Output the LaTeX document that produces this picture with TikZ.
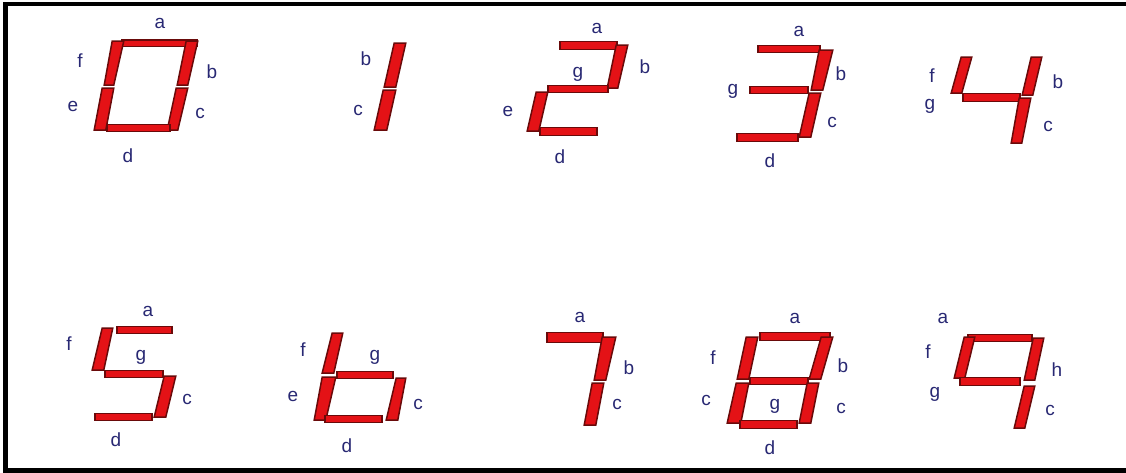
\documentclass[tikz,border=0pt]{standalone}
\usepackage{fontspec}
\newfontfamily\lblfont{Liberation Sans}
\definecolor{segred}{RGB}{228,18,22}
\definecolor{segdark}{RGB}{105,10,10}
\definecolor{lblblue}{RGB}{40,40,115}
\newcommand{\vsg}[6]{\draw[seg] ({#1-0.8},#3) -- ({#2+0.8},#3) -- ({#5+0.8},#6) -- ({#4-0.8},#6) -- cycle;}
\newcommand{\hsg}[4]{\draw[seg] (#1,{#3-0.5}) rectangle (#2,{#4+0.5});}
\begin{document}
\begin{tikzpicture}[x=1pt,y=-1pt,
  seg/.style={fill=segred,draw=segdark,line width=1.5pt,line join=miter},
  lbl/.style={text=lblblue,font=\lblfont\fontsize{19}{20}\selectfont,inner sep=0pt},
  frame/.style={line width=4.5pt,draw=black}]
\useasboundingbox (0,0) rectangle (1126,472);
% frame
\draw[frame] (5.3,472) -- (5.3,3.8) -- (1126,3.8);
\draw[frame] (3,470.5) -- (1126,470.5);
% digit 0
\hsg{122}{197}{40.5}{46}
\vsg{113}{123}{41}{105}{113}{85}
\vsg{103}{113}{88}{95}{105}{130}
\vsg{187}{197}{41}{178}{187}{85}
\vsg{177}{187}{88}{168}{177}{130}
\hsg{107}{170}{125}{131}
\node[lbl] (d0a) at (160,23) {a};
\node[lbl] (d0f) at (80,61) {f};
\node[lbl] (d0b) at (212,72) {b};
\node[lbl] (d0e) at (73,106) {e};
\node[lbl] (d0c) at (200,113) {c};
\node[lbl] (d0d) at (128,156) {d};
% digit 1
\vsg{395}{405}{43}{385}{395}{87}
\vsg{384}{395}{90}{375}{386}{130}
\node[lbl] (d1b) at (366,59) {b};
\node[lbl] (d1c) at (358,110) {c};
% digit 2
\hsg{560}{617}{42}{49}
\vsg{617}{627}{45}{608}{617}{88}
\hsg{548}{608}{86}{92}
\vsg{537}{547}{92}{528}{538}{131}
\hsg{540}{597}{128}{135}
\node[lbl] (d2a) at (597,28) {a};
\node[lbl] (d2g) at (578,74) {g};
\node[lbl] (d2b) at (645,67) {b};
\node[lbl] (d2e) at (508,111) {e};
\node[lbl] (d2d) at (560,157) {d};
% digit 3
\hsg{758}{820}{46}{52}
\vsg{820}{832}{50}{812}{822}{90}
\hsg{750}{808}{87}{93}
\vsg{810}{820}{93}{800}{810}{137}
\hsg{737}{798}{134}{141}
\node[lbl] (d3a) at (799,31) {a};
\node[lbl] (d3g) at (733,91) {g};
\node[lbl] (d3b) at (841,74) {b};
\node[lbl] (d3c) at (832,122) {c};
\node[lbl] (d3d) at (770,161) {d};
% digit 4
\vsg{962}{971}{57}{952}{961}{93}
\hsg{963}{1020}{94}{101}
\vsg{1032}{1041}{57}{1023}{1032}{95}
\vsg{1020}{1030}{98}{1012}{1021}{143}
\node[lbl] (d4f) at (932,76) {f};
\node[lbl] (d4g) at (930,106) {g};
\node[lbl] (d4b) at (1058,82) {b};
\node[lbl] (d4c) at (1048,126) {c};
% digit 5
\hsg{117}{172}{327}{333}
\vsg{103}{112}{328}{93}{103}{370}
\hsg{105}{163}{371}{377}
\vsg{165}{175}{376}{155}{165}{417}
\hsg{95}{152}{414}{420}
\node[lbl] (d5a) at (148,311) {a};
\node[lbl] (d5f) at (69,344) {f};
\node[lbl] (d5g) at (141,357) {g};
\node[lbl] (d5c) at (187,399) {c};
\node[lbl] (d5d) at (116,440) {d};
% digit 6
\vsg{333}{342}{333}{323}{333}{373}
\hsg{337}{393}{372}{378}
\vsg{323}{335}{377}{315}{325}{420}
\vsg{397}{405}{378}{387}{397}{420}
\hsg{325}{382}{416}{422}
\node[lbl] (d6f) at (303,350) {f};
\node[lbl] (d6g) at (375,357) {g};
\node[lbl] (d6e) at (293,396) {e};
\node[lbl] (d6c) at (418,404) {c};
\node[lbl] (d6d) at (347,446) {d};
% digit 7
\hsg{547}{603}{333}{342}
\vsg{603}{615}{337}{595}{605}{380}
\vsg{593}{603}{383}{585}{595}{425}
\node[lbl] (d7a) at (580,317) {a};
\node[lbl] (d7b) at (629,368) {b};
\node[lbl] (d7c) at (617,404) {c};
% digit 8
\hsg{760}{830}{333}{340}
\vsg{747}{757}{337}{738}{748}{379}
\vsg{822}{832}{337}{810}{820}{379}
\hsg{750}{808}{378}{384}
\vsg{737}{748}{383}{728}{740}{423}
\vsg{808}{818}{383}{800}{810}{423}
\hsg{740}{797}{421}{428}
\node[lbl] (d8a) at (795,318) {a};
\node[lbl] (d8f) at (713,358) {f};
\node[lbl] (d8b) at (843,366) {b};
\node[lbl] (d8e) at (706,400) {c};
\node[lbl] (d8g) at (775,406) {g};
\node[lbl] (d8c) at (841,408) {c};
\node[lbl] (d8d) at (770,448) {d};
% digit 9
\hsg{968}{1032}{335}{341}
\vsg{965}{974}{337}{955}{964}{378}
\vsg{1034}{1043}{338}{1025}{1034}{380}
\hsg{960}{1020}{378}{385}
\vsg{1025}{1034}{386}{1015}{1024}{428}
\node[lbl] (d9a) at (943,318) {a};
\node[lbl] (d9f) at (928,352) {f};
\node[lbl] (d9g) at (935,394) {g};
\node[lbl] (d9b) at (1057,370) {h};
\node[lbl] (d9c) at (1050,410) {c};
\end{tikzpicture}
\end{document}
